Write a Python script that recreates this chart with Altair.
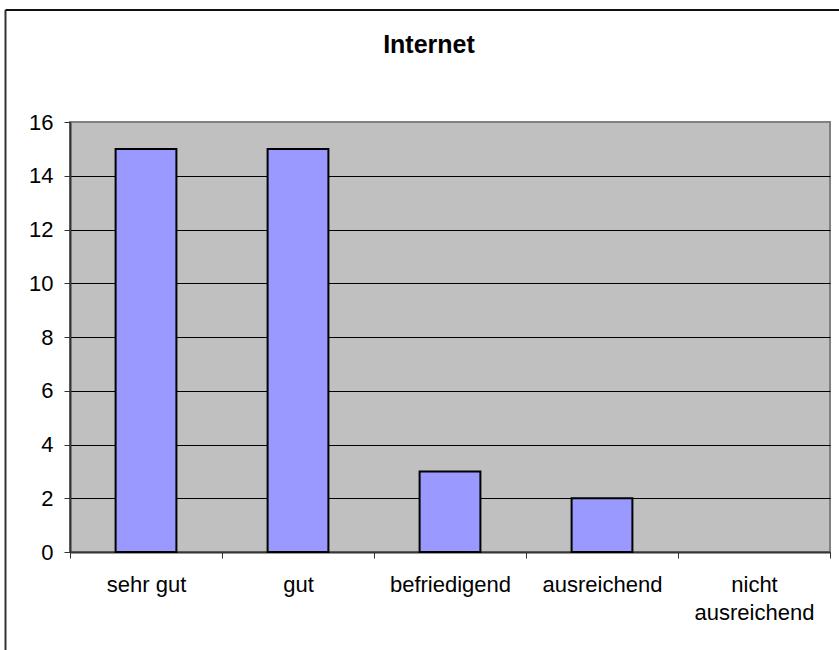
import altair as alt
import pandas as pd

# Survey ratings for "Internet"
chart_title = "Internet"
categories = ["sehr gut", "gut", "befriedigend", "ausreichend", "nicht ausreichend"]
counts = [15, 15, 3, 2, 0]
y_ticks = [0, 2, 4, 6, 8, 10, 12, 14, 16]

df = pd.DataFrame({"Note": categories, "Anzahl": counts})
frame_df = pd.DataFrame({"k": [0]})
title_df = pd.DataFrame({"t": [chart_title]})

FONT = "Liberation Sans"
W, H = 760, 430          # plot area
LEFT, TOP = 70, 122      # plot origin on the page
FS = 22

bars = alt.Chart(df).mark_bar(
    color="#9999FF",
    stroke="black",
    strokeWidth=2,
    width=alt.RelativeBandSize(0.4),
).encode(
    x=alt.X(
        "Note:N",
        sort=categories,
        scale=alt.Scale(paddingInner=0, paddingOuter=0),
        axis=alt.Axis(
            title=None,
            labelAngle=0,
            tickBand="extent",
            tickSize=6,
            tickColor="#333333",
            domainColor="#333333",
            domainWidth=2,
            labelPadding=16,
            labelFont=FONT,
            labelFontSize=FS,
            labelColor="black",
            labelLineHeight=28,
            labelExpr="datum.label == 'nicht ausreichend' ? ['nicht', 'ausreichend'] : datum.label",
            grid=False,
        ),
    ),
    y=alt.Y(
        "Anzahl:Q",
        scale=alt.Scale(domain=[0, 16], nice=False),
        axis=alt.Axis(
            title=None,
            values=y_ticks,
            tickSize=6,
            tickColor="#333333",
            domainColor="#333333",
            domainWidth=2,
            labelPadding=11,
            labelFont=FONT,
            labelFontSize=FS,
            labelColor="black",
            grid=True,
            gridColor={"condition": {"test": "datum.value == 16", "value": "#808080"}, "value": "black"},
            gridWidth=1,
        ),
    ),
    strokeOpacity=alt.condition(alt.datum.Anzahl > 0, alt.value(1), alt.value(0)),
)

# Chart heading
heading = alt.Chart(title_df).mark_text(
    font=FONT, fontSize=25, fontWeight="bold", color="black", align="center", baseline="alphabetic"
).encode(
    text="t:N", x=alt.value(429 - LEFT), y=alt.value(53 - TOP)
)

# Outer chart frame: left and top edges
frame_left = alt.Chart(frame_df).mark_rule(color="#333333", strokeWidth=2).encode(
    x=alt.value(5.5 - LEFT), y=alt.value(10 - TOP), y2=alt.value(700)
)
frame_top = alt.Chart(frame_df).mark_rule(color="#111111", strokeWidth=2).encode(
    x=alt.value(5.5 - LEFT), x2=alt.value(900), y=alt.value(10 - TOP)
)

chart = (
    alt.layer(bars, heading, frame_left, frame_top)
    .properties(
        width=W,
        height=H,
        autosize=alt.AutoSizeParams(type="none"),
        padding={"left": LEFT, "top": TOP, "right": 839 - LEFT - W, "bottom": 650 - TOP - H},
        background="white",
    )
    .configure_view(fill="#C0C0C0", stroke="#808080", strokeWidth=2)
)

chart.save("out.html", embed_options={"renderer": "svg", "actions": False})
